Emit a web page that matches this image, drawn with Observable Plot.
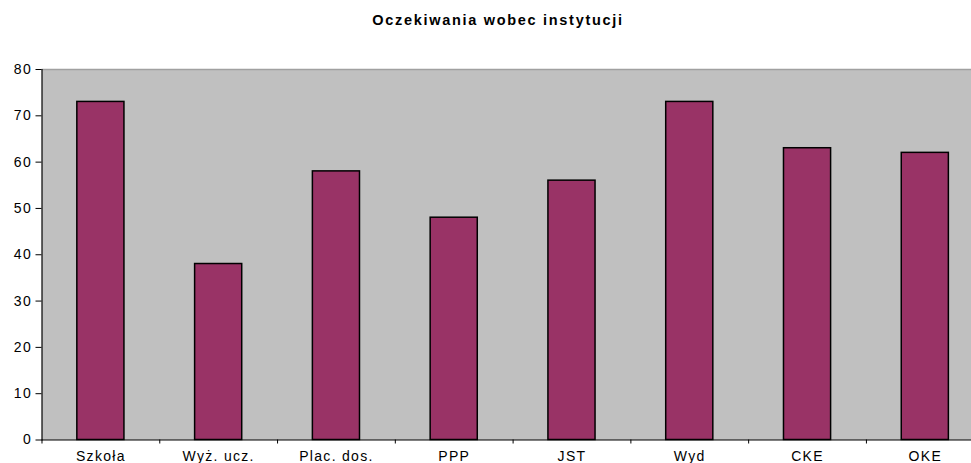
<!DOCTYPE html>
<html><head><meta charset="utf-8">
<script src="https://cdn.jsdelivr.net/npm/d3@7"></script>
<script src="https://cdn.jsdelivr.net/npm/@observablehq/plot@0.6"></script>
<style>
body{margin:0;background:#fff;overflow:hidden;width:971px;height:463px}
#title{font:bold 14.5px "Liberation Sans",Arial,sans-serif;height:40px;line-height:41px;text-align:center;width:946px;padding-left:25px;color:#000;letter-spacing:1.7px}
#chart svg{display:block;overflow:visible}
#chart svg text{letter-spacing:1.3px}
</style></head>
<body>
<div id="title">Oczekiwania wobec instytucji</div>
<div id="chart"></div>
<script>
const categories = ["Szkoła", "Wyż. ucz.", "Plac. dos.", "PPP", "JST", "Wyd", "CKE", "OKE"];
const values = [73, 38, 58, 48, 56, 73, 63, 62];
const yTicks = [0, 10, 20, 30, 40, 50, 60, 70, 80];

const data = categories.map((c, i) => ({cat: c, value: values[i]}));
const step = (983.7 - 41.5) / categories.length;

const plot = Plot.plot({
  width: 971,
  height: 423,
  marginTop: 29,
  marginBottom: 23.5,
  marginLeft: 41.5,
  marginRight: 0,
  style: {fontFamily: '"Liberation Sans", Arial, sans-serif', fontSize: "14px", color: "#000", background: "transparent", overflow: "visible"},
  x: {domain: categories, range: [41.5, 983.7], paddingInner: 0.6, paddingOuter: 0.3, align: 0.5, round: false},
  y: {domain: [0, 80], ticks: yTicks},
  marks: [
    Plot.frame({fill: "#c0c0c0", stroke: null}),
    Plot.ruleY([80], {stroke: "#a0a0a0", strokeWidth: 1.5}),
    Plot.barY(data, {x: "cat", y: "value", fill: "#993366", stroke: "#000", strokeWidth: 1.5}),
    Plot.axisY({ticks: yTicks, tickSize: 6, tickPadding: 4, label: null, stroke: "#000"}),
    Plot.axisX({tickSize: 0, tickPadding: 11, label: null}),
    Plot.axisX({tickSize: 4, tickFormat: () => "", label: null, dx: -step / 2, stroke: "#000"}),
    Plot.frame({anchor: "left", stroke: "#000", strokeWidth: 1.2}),
    Plot.frame({anchor: "bottom", stroke: "#000", strokeWidth: 1.2})
  ]
});
document.getElementById("chart").appendChild(plot);
</script>
</body></html>
